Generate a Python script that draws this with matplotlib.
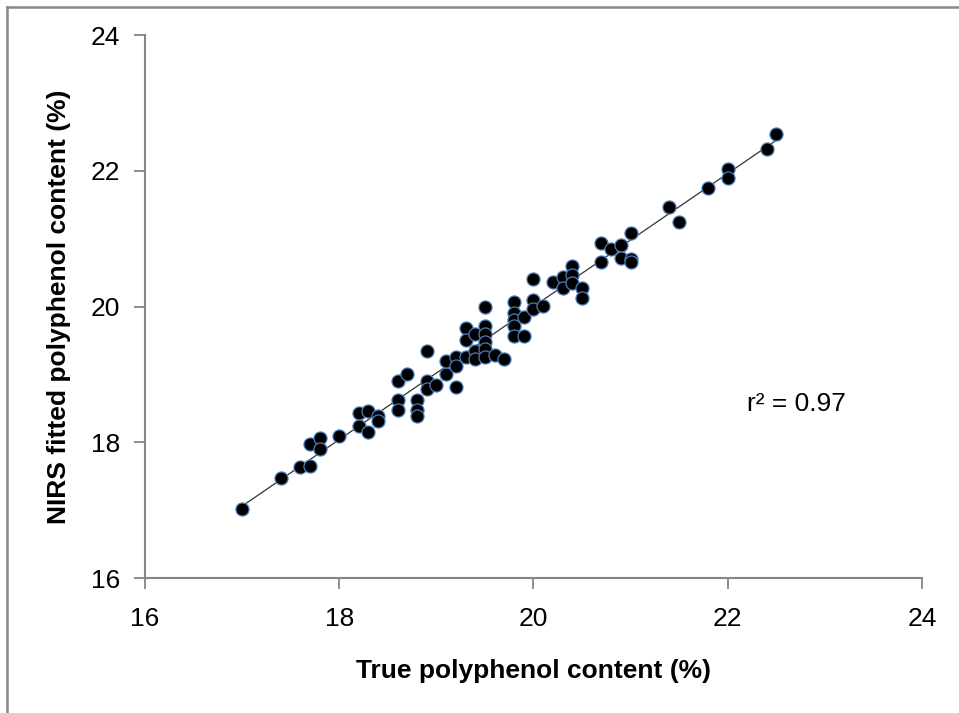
import numpy as np
import matplotlib
matplotlib.use('Agg')
import matplotlib.pyplot as plt
from matplotlib.lines import Line2D

plt.rcParams['font.family'] = ['Liberation Sans', 'DejaVu Sans']

#true vs NIRS fitted polyphenol content (%)
true_pc = [17.0, 17.4, 17.6, 17.7, 17.7, 17.8, 17.8, 18.0, 18.2, 18.2,
           18.3, 18.3, 18.4, 18.4, 18.6, 18.6, 18.6, 18.7, 18.8, 18.8,
           18.8, 18.9, 18.9, 18.9, 19.0, 19.1, 19.1, 19.2, 19.2, 19.2,
           19.3, 19.3, 19.3, 19.4, 19.4, 19.4, 19.5, 19.5, 19.5, 19.5,
           19.5, 19.5, 19.6, 19.7, 19.8, 19.8, 19.8, 19.8, 19.8, 19.9,
           19.9, 20.0, 20.0, 20.0, 20.1, 20.2, 20.3, 20.3, 20.4, 20.4,
           20.4, 20.5, 20.5, 20.7, 20.7, 20.8, 20.9, 20.9, 21.0, 21.0,
           21.0, 21.4, 21.5, 21.8, 22.0, 22.0, 22.4, 22.5]
fitted_pc = [17.01, 17.47, 17.63, 17.65, 17.97, 18.07, 17.90, 18.09, 18.43, 18.24,
             18.46, 18.15, 18.38, 18.32, 18.90, 18.63, 18.48, 19.01, 18.63, 18.48,
             18.38, 19.34, 18.90, 18.78, 18.84, 19.01, 19.19, 19.25, 19.12, 18.82,
             19.69, 19.50, 19.26, 19.59, 19.35, 19.23, 19.99, 19.71, 19.59, 19.47,
             19.37, 19.26, 19.28, 19.23, 20.06, 19.91, 19.80, 19.71, 19.56, 19.84,
             19.56, 20.41, 20.10, 19.97, 20.01, 20.36, 20.43, 20.28, 20.59, 20.46,
             20.35, 20.28, 20.12, 20.93, 20.65, 20.85, 20.90, 20.72, 21.09, 20.70,
             20.66, 21.46, 21.24, 21.74, 22.03, 21.90, 22.32, 22.54]

#regression line end points
line_x = [17.0, 22.5]
line_y = [17.06, 22.45]

fig = plt.figure(figsize=(9.59, 7.13), dpi=100)
ax = fig.add_axes([0.1512, 0.1893, 0.8102, 0.7616])

ax.plot(line_x, line_y, color='#333333', lw=0.9, zorder=2)
ax.plot(true_pc, fitted_pc, 'o', ms=9.4, mfc='black', mec='#4a7ebb',
        mew=0.9, zorder=3)

ax.set_xlim(16, 24)
ax.set_ylim(16, 24)
ax.set_xticks([16, 18, 20, 22, 24])
ax.set_yticks([16, 18, 20, 22, 24])

for s in ['top', 'right']:
    ax.spines[s].set_visible(False)
for s in ['left', 'bottom']:
    ax.spines[s].set_color('#868686')
    ax.spines[s].set_linewidth(1.5)
ax.tick_params(direction='out', length=8, width=1.3, color='#868686',
               labelsize=19)
ax.tick_params(axis='x', pad=13)
ax.tick_params(axis='y', pad=10)

ax.set_xlabel('True polyphenol content (%)', fontsize=19, fontweight='bold',
              labelpad=20)
ax.set_ylabel('NIRS fitted polyphenol content (%)', fontsize=19,
              fontweight='bold', labelpad=14)

ax.text(22.2, 18.56, 'r² = 0.97', fontsize=19, va='center', ha='left')

#grey frame along top and left edges
fig.add_artist(Line2D([7/959, 7/959], [0, 1 - 7/713], color='#888888',
                      lw=1.8, transform=fig.transFigure))
fig.add_artist(Line2D([7/959, 1], [1 - 7/713, 1 - 7/713], color='#888888',
                      lw=1.8, transform=fig.transFigure))

fig.savefig('out.png', dpi=100)
